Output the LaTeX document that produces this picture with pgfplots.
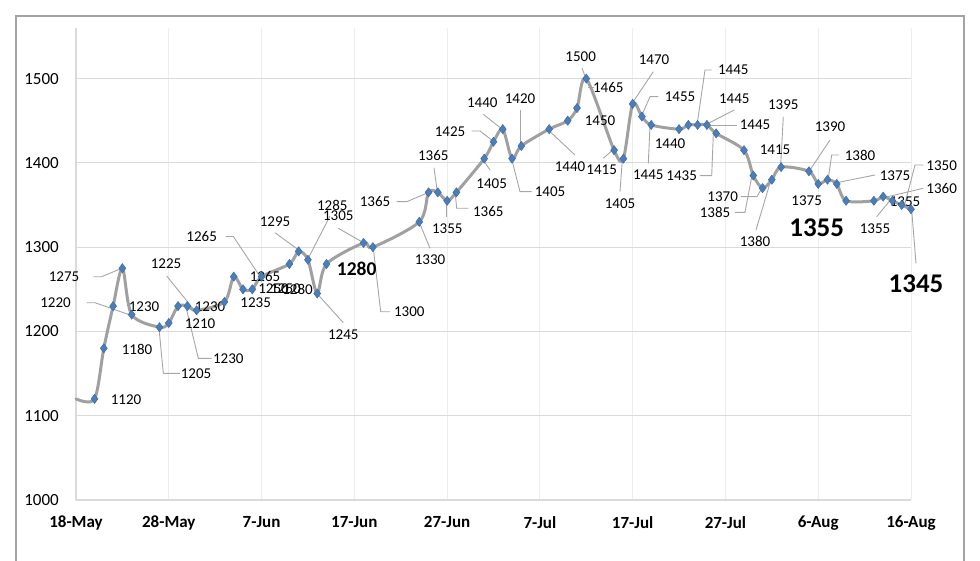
\documentclass[border=0pt]{standalone}
\usepackage{pgfplots}
\pgfplotsset{compat=1.18}
\usepackage{pgfplotstable}
\usepackage{fontspec}
\setmainfont{Carlito}
\definecolor{lineg}{HTML}{A0A0A0}
\definecolor{mk}{HTML}{4A7EBB}
\definecolor{mkd}{HTML}{3D6CAA}
\definecolor{leadc}{HTML}{A6A6A6}
\definecolor{gridh}{HTML}{DADADA}
\definecolor{gridv}{HTML}{EDEDED}
\definecolor{framec}{HTML}{A3A3A3}

\pgfplotstableread{
day value
0 1120
2 1120
3 1180
4 1230
5 1275
6 1220
9 1205
10 1210
11 1230
12 1230
13 1225
16 1235
17 1265
18 1250
19 1250
20 1265
23 1280
24 1295
25 1285
26 1245
27 1280
31 1305
32 1300
37 1330
38 1365
39 1365
40 1355
41 1365
44 1405
45 1425
46 1440
47 1405
48 1420
51 1440
53 1450
54 1465
55 1500
58 1415
59 1405
60 1470
61 1455
62 1445
65 1440
66 1445
67 1445
68 1445
69 1435
72 1415
73 1385
74 1370
75 1380
76 1395
79 1390
80 1375
81 1380
82 1375
83 1355
86 1355
87 1360
88 1355
89 1350
90 1345
}\pricedata

\tikzset{
  lbl/.style={font=\fontsize{15}{18}\selectfont, inner sep=0pt, text=black},
  lead/.style={leadc, line width=0.9pt},
  boldA/.style={font=\fontsize{19.5}{22}\selectfont\bfseries},
  boldB/.style={font=\fontsize{27}{30}\selectfont\bfseries},
}

% label at picture-pixel position (x from left, y from top)
\newcommand{\Lb}[4][]{%
  \pgfmathsetmacro\lAx{(#2-76)/9.27778}%
  \pgfmathsetmacro\lAy{1000+(500-#3)*1.186441}%
  \edef\lTmp{\noexpand\node[lbl,\unexpanded{#1}] at (axis cs:\lAx,\lAy) {\unexpanded{#4}};}\lTmp}
\newcommand{\LL}[4]{%
  \pgfmathsetmacro\lAx{(#1-76)/9.27778}\pgfmathsetmacro\lAy{1000+(500-#2)*1.186441}%
  \pgfmathsetmacro\lBx{(#3-76)/9.27778}\pgfmathsetmacro\lBy{1000+(500-#4)*1.186441}%
  \edef\lTmp{\noexpand\draw[lead] (axis cs:\lAx,\lAy) -- (axis cs:\lBx,\lBy);}\lTmp}
\newcommand{\LLL}[6]{%
  \pgfmathsetmacro\lAx{(#1-76)/9.27778}\pgfmathsetmacro\lAy{1000+(500-#2)*1.186441}%
  \pgfmathsetmacro\lBx{(#3-76)/9.27778}\pgfmathsetmacro\lBy{1000+(500-#4)*1.186441}%
  \pgfmathsetmacro\lCx{(#5-76)/9.27778}\pgfmathsetmacro\lCy{1000+(500-#6)*1.186441}%
  \edef\lTmp{\noexpand\draw[lead] (axis cs:\lAx,\lAy) -- (axis cs:\lBx,\lBy) -- (axis cs:\lCx,\lCy);}\lTmp}

\begin{document}
\begin{tikzpicture}
\useasboundingbox (-76pt,-60pt) rectangle (904pt,500pt);
\draw[framec, line width=1.2pt] (-60pt,-62pt) -- (-60pt,484pt) -- (888pt,484pt) -- (888pt,-62pt);
\begin{axis}[
  scale only axis, width=835pt, height=472pt,
  xmin=0, xmax=90, ymin=1000, ymax=1560,
  xtick={0,10,...,90},
  xticklabels={18-May,28-May,7-Jun,17-Jun,27-Jun,7-Jul,17-Jul,27-Jul,6-Aug,16-Aug},
  ytick={1000,1100,...,1500},
  major tick length=0pt,
  axis line style={draw=none},
  grid=major,
  x grid style={gridv, line width=0.8pt},
  y grid style={gridh, line width=1.2pt},
  tick label style={inner sep=0pt, font=\fontsize{17}{20}\selectfont},
  xticklabel style={font=\fontsize{17}{20}\selectfont\bfseries, yshift=-16pt, anchor=north},
  yticklabel style={xshift=-17pt, anchor=east},
  /pgf/number format/assume math mode=true,
  /pgf/number format/1000 sep={},
  clip=false,
]
\draw[gridh, line width=1.2pt] (rel axis cs:0,0) -- (rel axis cs:0,1);
% leader lines
\LLL{93.3}{276.7}{101.7}{276.7}{121.7}{268.3}
\LLL{86.7}{302.7}{95}{302.7}{130}{315}
\LL{166.7}{276}{195}{311}
\LLL{211.7}{358.3}{198.3}{358.3}{186.7}{310}
\LLL{180}{373.3}{163.3}{373.3}{159}{328.3}
\LLL{225.7}{236.5}{233.3}{236.5}{259}{275}
\LL{275}{232.7}{297.7}{249.3}
\LL{330}{216}{308.3}{258.3}
\LL{338.3}{228.3}{361.7}{241.7}
\LL{343.3}{322.7}{318.3}{295}
\LLL{390}{311.7}{380.7}{311.7}{373.3}{248.3}
\LL{430}{248.3}{420}{224}
\LLL{396.7}{201.7}{406.7}{201.7}{426.7}{193.3}
\LL{434}{167.7}{437.3}{191.7}
\LL{446.7}{217.3}{446.7}{201.7}
\LLL{468.3}{208.3}{456.7}{208.3}{455.3}{194}
\LL{490}{170}{483.3}{160}
\LLL{471.7}{131}{480}{131}{491.7}{140}
\LL{483.3}{114.3}{501}{128.3}
\LL{520}{110}{520}{144}
\LLL{531.7}{191.7}{520}{191.7}{511.7}{159}
\LL{575}{155}{548.3}{130}
\LL{594}{87}{588}{87}
\LL{582}{68}{585}{76}
\LL{603.3}{158.3}{612.7}{150}
\LL{620}{191.7}{622.3}{160}
\LL{653.3}{71.7}{633.3}{101.7}
\LLL{658.3}{96.7}{650}{96.7}{642.7}{113.3}
\LL{648.3}{163.3}{650}{126}
\LLL{700}{175.7}{711.7}{175.7}{713.3}{135}
\LLL{711.7}{70}{705}{70}{697.3}{123.3}
\LL{734.3}{110}{708.3}{123.3}
\LL{736.7}{125}{710}{125}
\LLL{741}{196.7}{757}{196.7}{762}{188}
\LLL{735}{212.3}{745}{212.3}{751.7}{177}
\LL{756}{230}{770.7}{180.7}
\LL{783.3}{116.7}{780.7}{165}
\LL{830}{140}{810}{170}
\LLL{839}{155}{831.7}{155}{828.3}{178.3}
\LL{875}{175}{836.7}{182.7}
\LLL{923.3}{165}{915}{165}{904}{207.3}
\LL{923.3}{188.3}{885}{197.3}
\LL{876.7}{216.7}{891}{199.3}
\LL{916}{263.3}{911.7}{210}
% series
\addplot[lineg, line width=3pt, smooth, no markers, line cap=round, line join=round] table[x=day,y=value]{\pricedata};
\addplot[only marks, mark=diamond*, mark size=4.6pt, mark options={fill=mk, draw=mkd, line width=0.5pt}, skip coords between index={0}{1}] table[x=day,y=value]{\pricedata};
% data labels
\Lb{126}{400}{1120}
\Lb{137}{349}{1180}
\Lb{144}{306.7}{1230}
\Lb{64}{276.7}{1275}
\Lb{55.5}{302.7}{1220}
\Lb{166}{263.3}{1225}
\Lb{210}{306.7}{1230}
\Lb{200}{323.3}{1210}
\Lb{228.3}{358.3}{1230}
\Lb{196}{373.3}{1205}
\Lb{255.7}{302.7}{1235}
\Lb{265}{276.7}{1265}
\Lb{273.5}{289}{1250}
\Lb{285.5}{289}{1250}
\Lb{297.5}{289}{1280}
\Lb{201.7}{236.7}{1265}
\Lb{275}{221.7}{1295}
\Lb{332.3}{205}{1285}
\Lb{338.3}{216}{1305}
\Lb[boldA]{356.7}{269.3}{1280}
\Lb{343.3}{335}{1245}
\Lb{409.3}{311.7}{1300}
\Lb{430}{260}{1330}
\Lb{375}{201.7}{1365}
\Lb{433.3}{155}{1365}
\Lb{447.3}{228.3}{1355}
\Lb{488.3}{211.7}{1365}
\Lb{491.7}{183.3}{1405}
\Lb{450}{132}{1425}
\Lb{482.3}{102.7}{1440}
\Lb{520}{98.3}{1420}
\Lb{550}{191.7}{1405}
\Lb{570}{166.7}{1440}
\Lb{600}{121}{1450}
\Lb{608.3}{87.2}{1465}
\Lb{580.7}{56.7}{1500}
\Lb{601.7}{170}{1415}
\Lb{620}{203.3}{1405}
\Lb{654}{60}{1470}
\Lb{680}{96.7}{1455}
\Lb{648.3}{175}{1445}
\Lb{670}{143.3}{1440}
\Lb{681.7}{175.7}{1435}
\Lb{733.3}{70}{1445}
\Lb{734.3}{98.3}{1445}
\Lb{755}{125}{1445}
\Lb{722.7}{196.7}{1370}
\Lb{715}{212.3}{1385}
\Lb{755}{241.7}{1380}
\Lb{783.3}{105}{1395}
\Lb{775}{150}{1415}
\Lb{830}{126.7}{1390}
\Lb{806.7}{201}{1375}
\Lb[boldB]{816.7}{227.3}{1355}
\Lb{860}{155.7}{1380}
\Lb{895}{176}{1375}
\Lb{941.7}{166}{1350}
\Lb{941.7}{188.3}{1360}
\Lb{905}{201.7}{1355}
\Lb{875}{228.3}{1355}
\Lb[boldB]{916}{283.3}{1345}
\end{axis}
\end{tikzpicture}
\end{document}
